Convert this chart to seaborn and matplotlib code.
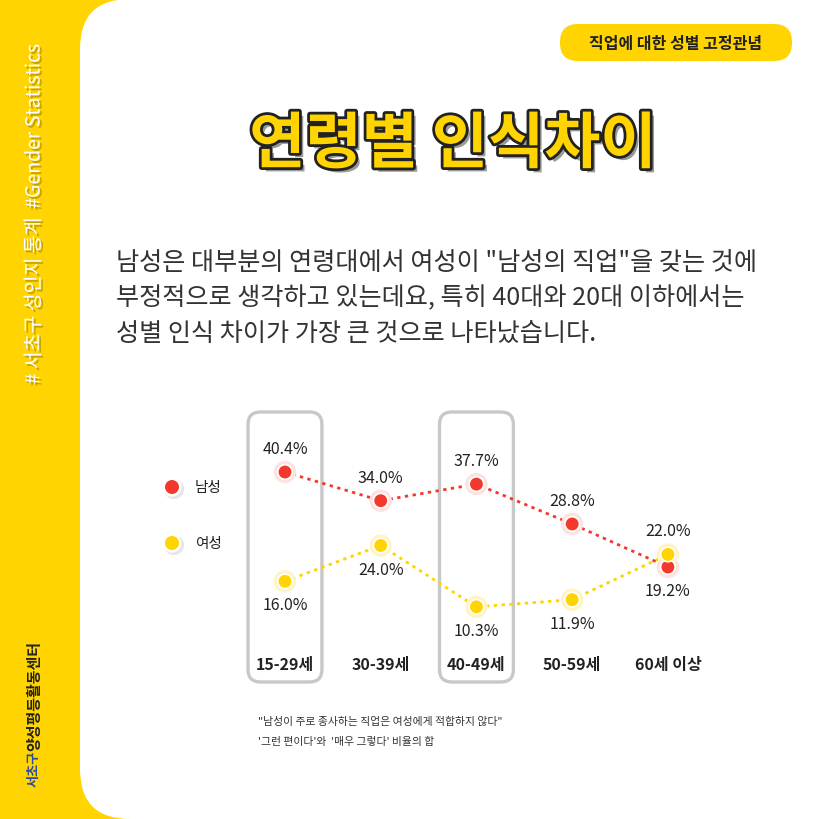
import matplotlib
matplotlib.use("Agg")
import matplotlib.pyplot as plt
import matplotlib.patheffects as pe
from matplotlib.patches import FancyBboxPatch, Circle
import seaborn as sns
import pandas as pd

sns.set_theme(style="white")
plt.rcParams['font.family'] = ['Noto Sans CJK KR', 'DejaVu Sans']

# ---- data ----
age_groups = ["15-29세", "30-39세", "40-49세", "50-59세", "60세 이상"]
men_values = [40.4, 34.0, 37.7, 28.8, 19.2]
women_values = [16.0, 24.0, 10.3, 11.9, 22.0]
series_names = ["남성", "여성"]
highlight_groups = ["15-29세", "40-49세"]

title_text = "연령별 인식차이"
badge_text = "직업에 대한 성별 고정관념"
body_lines = [
    "남성은 대부분의 연령대에서 여성이 \"남성의 직업\"을 갖는 것에",
    "부정적으로 생각하고 있는데요, 특히 40대와 20대 이하에서는",
    "성별 인식 차이가 가장 큰 것으로 나타났습니다.",
]
note_lines = [
    "\"남성이 주로 종사하는 직업은 여성에게 적합하지 않다\"",
    "'그런 편이다'와  '매우 그렇다' 비율의 합",
]
side_top = "# 서초구 성인지 통계  #Gender Statistics"
side_bottom_a = "서초구"
side_bottom_b = "양성평등활동센터"

# label placement style: +1 above, -1 below
men_label_dir = [1, 1, 1, 1, -1]
women_label_dir = [-1, -1, -1, -1, 1]

RED = "#F2392B"
YEL = "#FFD400"
BG_YEL = "#FFD400"

df = pd.DataFrame({
    "age": age_groups * 2,
    "x": list(range(len(age_groups))) * 2,
    "value": men_values + women_values,
    "gender": [series_names[0]] * len(age_groups) + [series_names[1]] * len(age_groups),
})

fig = plt.figure(figsize=(8.2, 8.2), dpi=100)
fig.patch.set_facecolor(BG_YEL)

# background axes in pixel coordinates
bg = fig.add_axes([0, 0, 1, 1])
bg.set_xlim(0, 820)
bg.set_ylim(820, 0)
bg.axis("off")

panel = FancyBboxPatch((80, 0), 800, 820, boxstyle="round,pad=0,rounding_size=50",
                       facecolor="white", edgecolor="none")
bg.add_patch(panel)

# badge
badge = FancyBboxPatch((560, 25), 232, 37, boxstyle="round,pad=0,rounding_size=18",
                       facecolor=BG_YEL, edgecolor="none")
bg.add_patch(badge)
bg.text(676, 44, badge_text, ha="center", va="center", fontsize=11.5,
        fontweight="bold", color="#222222")

# title
bg.text(453, 146, title_text, ha="center", va="center", fontsize=44,
        fontweight="black", color=YEL,
        path_effects=[pe.withSimplePatchShadow(offset=(3, -3), shadow_rgbFace="#555555", alpha=0.6),
                      pe.Stroke(linewidth=4, foreground="#222222"), pe.Normal()])

# body text
for i, line in enumerate(body_lines):
    bg.text(116, 263 + i * 35.5, line, ha="left", va="center", fontsize=18.1,
            color="#333333")

# notes
for i, line in enumerate(note_lines):
    bg.text(258, 722 + i * 20, line, ha="left", va="center", fontsize=7.8,
            color="#333333")

# sidebar texts
bg.text(34, 215, side_top, rotation=90, ha="center", va="center", fontsize=14,
        color="white",
        path_effects=[pe.withSimplePatchShadow(offset=(1.5, -1.5), shadow_rgbFace="#8a6d00", alpha=0.5)])
bg.text(34, 787, side_bottom_a, rotation=90, ha="center", va="bottom", fontsize=9.5,
        fontweight="bold", color="#2A4D9E")
bg.text(34, 751, side_bottom_b, rotation=90, ha="center", va="bottom", fontsize=10.8,
        fontweight="bold", color="#222222")

# legend
for yy, col, name in [(488, RED, series_names[0]), (544, YEL, series_names[1])]:
    bg.add_patch(Circle((174, yy + 2), 10, facecolor="#cccccc", alpha=0.5, edgecolor="none"))
    bg.add_patch(Circle((172, yy), 9.5, facecolor="white", edgecolor="none"))
    bg.add_patch(Circle((172, yy), 7, facecolor=col, edgecolor="none"))
    bg.text(195, yy, name, ha="left", va="center", fontsize=10.5, color="#222222")

# chart axes
ax = fig.add_axes([240 / 820, 120 / 820, 470 / 820, 300 / 820])
ax.patch.set_alpha(0)

# highlight boxes
for g in highlight_groups:
    i = age_groups.index(g)
    box = FancyBboxPatch((i - 0.386, -6.47), 0.772, 60.27,
                         boxstyle="round,pad=0,rounding_size=0.13",
                         mutation_aspect=21.4, facecolor="none",
                         edgecolor="#C8C8C8", linewidth=2.4, zorder=1)
    ax.add_patch(box)

sns.lineplot(data=df, x="x", y="value", hue="gender", palette=[RED, YEL],
             linestyle=(0, (1.2, 1.6)), linewidth=2, legend=False, ax=ax, zorder=2)
sns.scatterplot(data=df, x="x", y="value", hue="gender", palette=["#fde3e0", "#fff4c4"],
                s=260, edgecolor="none", legend=False, ax=ax, zorder=3)
sns.scatterplot(data=df, x="x", y="value", hue="gender", palette=[RED, YEL],
                s=110, edgecolor="white", linewidth=1.2, legend=False, ax=ax, zorder=4)
ax.set_xlim(-0.47, 4.44)
ax.set_ylim(-10.27, 56.7)
ax.axis("off")

for vals, dirs in [(men_values, men_label_dir), (women_values, women_label_dir)]:
    for i, (v, d) in enumerate(zip(vals, dirs)):
        ax.annotate(f"{v:.1f}%", (i, v), xytext=(0, 17 * d), textcoords="offset points",
                    ha="center", va="center", fontsize=11.5, color="#222222", zorder=5)

for i, g in enumerate(age_groups):
    ax.text(i, 35 / 300, g, transform=ax.get_xaxis_transform(), ha="center", va="center",
            fontsize=11.5, fontweight="bold", color="#222222")

fig.savefig("out.png", dpi=100, facecolor=fig.get_facecolor())
